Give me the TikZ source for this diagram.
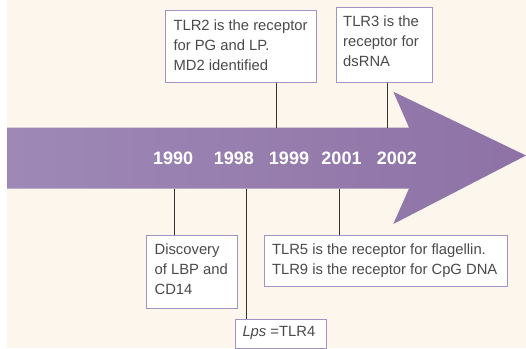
\documentclass[tikz,border=0pt]{standalone}
\usepackage{fontspec}
\setmainfont{Liberation Sans}
\definecolor{bgcream}{HTML}{FCF6EC}
\definecolor{arrowL}{HTML}{9E89B6}
\definecolor{arrowR}{HTML}{8E72A6}
\definecolor{boxline}{HTML}{A492C2}
\definecolor{txtgray}{HTML}{4A4A4A}
\definecolor{linegray}{HTML}{333333}
\begin{document}
\begin{tikzpicture}[x=1pt,y=-1pt,
  box/.style={draw=boxline, line width=0.9pt, fill=white, inner sep=0pt, anchor=north west},
  txt/.style={inner sep=0pt, anchor=north west, align=left, text=txtgray, font=\fontsize{14.8}{20}\selectfont},
  year/.style={text=white, font=\fontsize{18}{20}\selectfont\bfseries, anchor=base, inner sep=0pt},
  conn/.style={draw=linegray, line width=0.8pt}]
\useasboundingbox (0,0) rectangle (526,348);
\fill[white] (0,0) rectangle (526,348);
\fill[bgcream] (7,0) rectangle (526,348);
% arrow
\shade[left color=arrowL, right color=arrowR]
  (7,127.5) -- (409,127.5) -- (393.3,91.7) -- (526,155.5) -- (393.3,224) -- (409,188.5) -- (7,188.5) -- cycle;
% years
\node[year] (y1990) at (173.2,164) {1990};
\node[year] (y1998) at (233.9,164) {1998};
\node[year] (y1999) at (289,164) {1999};
\node[year] (y2001) at (341.5,164) {2001};
\node[year] (y2002) at (396.8,164) {2002};
% attachment points on the shaft
\coordinate (a2) at (276.2,127.5);
\coordinate (a3) at (387.6,127.5);
\coordinate (aD) at (174.5,188.5);
\coordinate (aL) at (246.6,188.5);
\coordinate (a5) at (338.9,188.5);
% boxes
\node[box, minimum width=151pt, minimum height=71.5pt] (b2) at (164.8,10.4) {};
\node[box, minimum width=96pt, minimum height=74.5pt] (b3) at (335.6,7.4) {};
\node[box, minimum width=90.6pt, minimum height=73.2pt] (bD) at (146.3,235.2) {};
\node[box, minimum width=91pt, minimum height=28.7pt] (bL) at (234.6,318.8) {};
\node[box, minimum width=242.3pt, minimum height=51pt] (b5) at (264.4,235.2) {};
% texts
\node[txt] (t2) at (173.3,19.1) {TLR2 is the receptor\\for PG and LP.\\MD2 identified};
\node[txt] (t3) at (343,15.8) {TLR3 is the\\receptor for\\dsRNA};
\node[txt] (tD) at (154.4,244) {Discovery\\of LBP and\\CD14};
\node[txt] (t5) at (271.8,244) {TLR5 is the receptor for flagellin.\\TLR9 is the receptor for CpG DNA};
\node[txt] (tL) at (242.3,325.7) {\textit{Lps} =TLR4};
% connectors
\draw[conn] (b2.south -| a2) -- (a2);
\draw[conn] (b3.south -| a3) -- (a3);
\draw[conn] (aD) -- (bD.north -| aD);
\draw[conn] (aL) -- (bL.north -| aL);
\draw[conn] (a5) -- (b5.north -| a5);
\end{tikzpicture}
\end{document}
